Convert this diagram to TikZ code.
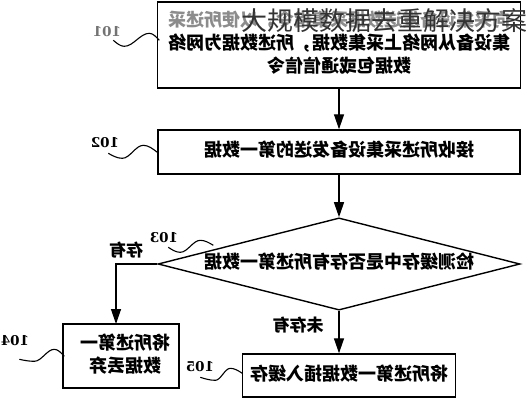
\documentclass[tikz,border=0pt]{standalone}
\usepackage{fontspec}
\setmainfont{Liberation Serif}
\newfontfamily\cjk{Noto Sans CJK SC}
\newfontfamily\numfont{DejaVu Serif}
\usetikzlibrary{shapes.geometric,arrows.meta}
\newcommand{\mirror}[1]{\reflectbox{\begin{tabular}{@{}c@{}}#1\end{tabular}}}

\begin{document}
\begin{tikzpicture}[x=1pt,y=1pt,>={Triangle[length=15pt,width=10pt]}]
% ---- styles ----
\tikzstyle{stepbox}=[draw,line width=1.4pt,inner sep=0pt,align=center,
  font=\cjk\bfseries\fontsize{18}{23}\selectfont]
\tikzstyle{testbox}=[stepbox,diamond,aspect=3.9]
\tikzstyle{tag}=[inner sep=0pt,font=\numfont\bfseries\fontsize{13.5}{14}\selectfont]
\tikzstyle{cond}=[inner sep=0pt,font=\cjk\bfseries\fontsize{17}{17}\selectfont]
\tikzstyle{lead}=[line width=1.1pt]
\tikzstyle{arr}=[->,line width=1.3pt]

\useasboundingbox (0,0) rectangle (526,400);

% ---- steps ----
\node[stepbox,minimum width=363,minimum height=86] (n101) at (339,355)
  {\mirror{{\color{black!45}向采集设备发送数据采集指令，以使所述采}\\
   集设备从网络上采集数据，所述数据为网络\\数据包或通信信令}};
\node[stepbox,minimum width=362,minimum height=44] (n102) at (339,248)
  {\mirror{接收所述采集设备发送的第一数据}};
\node[testbox,minimum width=362,minimum height=92] (n103) at (339,136)
  {\mirror{检测缓存中是否存有所述第一数据}};
\node[stepbox,minimum width=116,minimum height=64] (n104) at (121,44)
  {\hspace*{8pt}\mirror{将所述第一\\数据丢弃}};
\node[stepbox,minimum width=213,minimum height=43] (n105) at (349,24.5)
  {\mirror{将所述第一数据插入缓存}};

% ---- flow ----
\coordinate (c104) at (116,76);
\draw[arr] (n101) -- (n102);
\draw[arr] (n102) -- (n103);
\draw[arr] (n103.west) -| (c104);
\draw[arr] (n103.south) -- (n103.south |- n105.north);
\node[cond] (yes) at (126,150) {\reflectbox{存有}};
\node[cond] (no) at (298,75) {\reflectbox{未存有}};

% ---- step numbers ----
\node[tag,text=black!55] (l101) at (107,368) {\reflectbox{101}};
\node[tag] (l102) at (105,257) {\reflectbox{102}};
\node[tag] (l103) at (164,162) {\reflectbox{103}};
\node[tag] (l104) at (15,59) {\reflectbox{104}};
\node[tag] (l105) at (200,33) {\reflectbox{105}};

\draw[lead] ([shift={(-8,-3)}]l101.south east) sin ++(11,-6) cos ++(12.5,6.5) sin ++(12.5,6.5) cos ++(10,-7);
\draw[lead] ([shift={(-11,-5)}]l102.south east) sin ++(14,-5) cos ++(10.5,6.5) sin ++(10.5,6.5) cos ++(14,-7);
\draw[lead] ([shift={(-10,-4)}]l103.south east) sin ++(12,-5) cos ++(10,6) sin ++(10,6) cos ++(13,-5);
\draw[lead] ([shift={(-10,-13)}]l104.south east) sin ++(15,-2) cos ++(10,6) sin ++(10,6) cos ++(10,-7);
\draw[lead] ([shift={(-14,-5)}]l105.south east) sin ++(15,-3) cos ++(7.5,6) sin ++(7.5,6) cos ++(12,-5);

% ---- overlay title ----
\node[anchor=west,inner sep=0pt,text=black!80,font=\cjk\fontsize{26}{30}\selectfont] (wm) at (241,379)
  {大规模数据去重解决方案};
\end{tikzpicture}
\end{document}
